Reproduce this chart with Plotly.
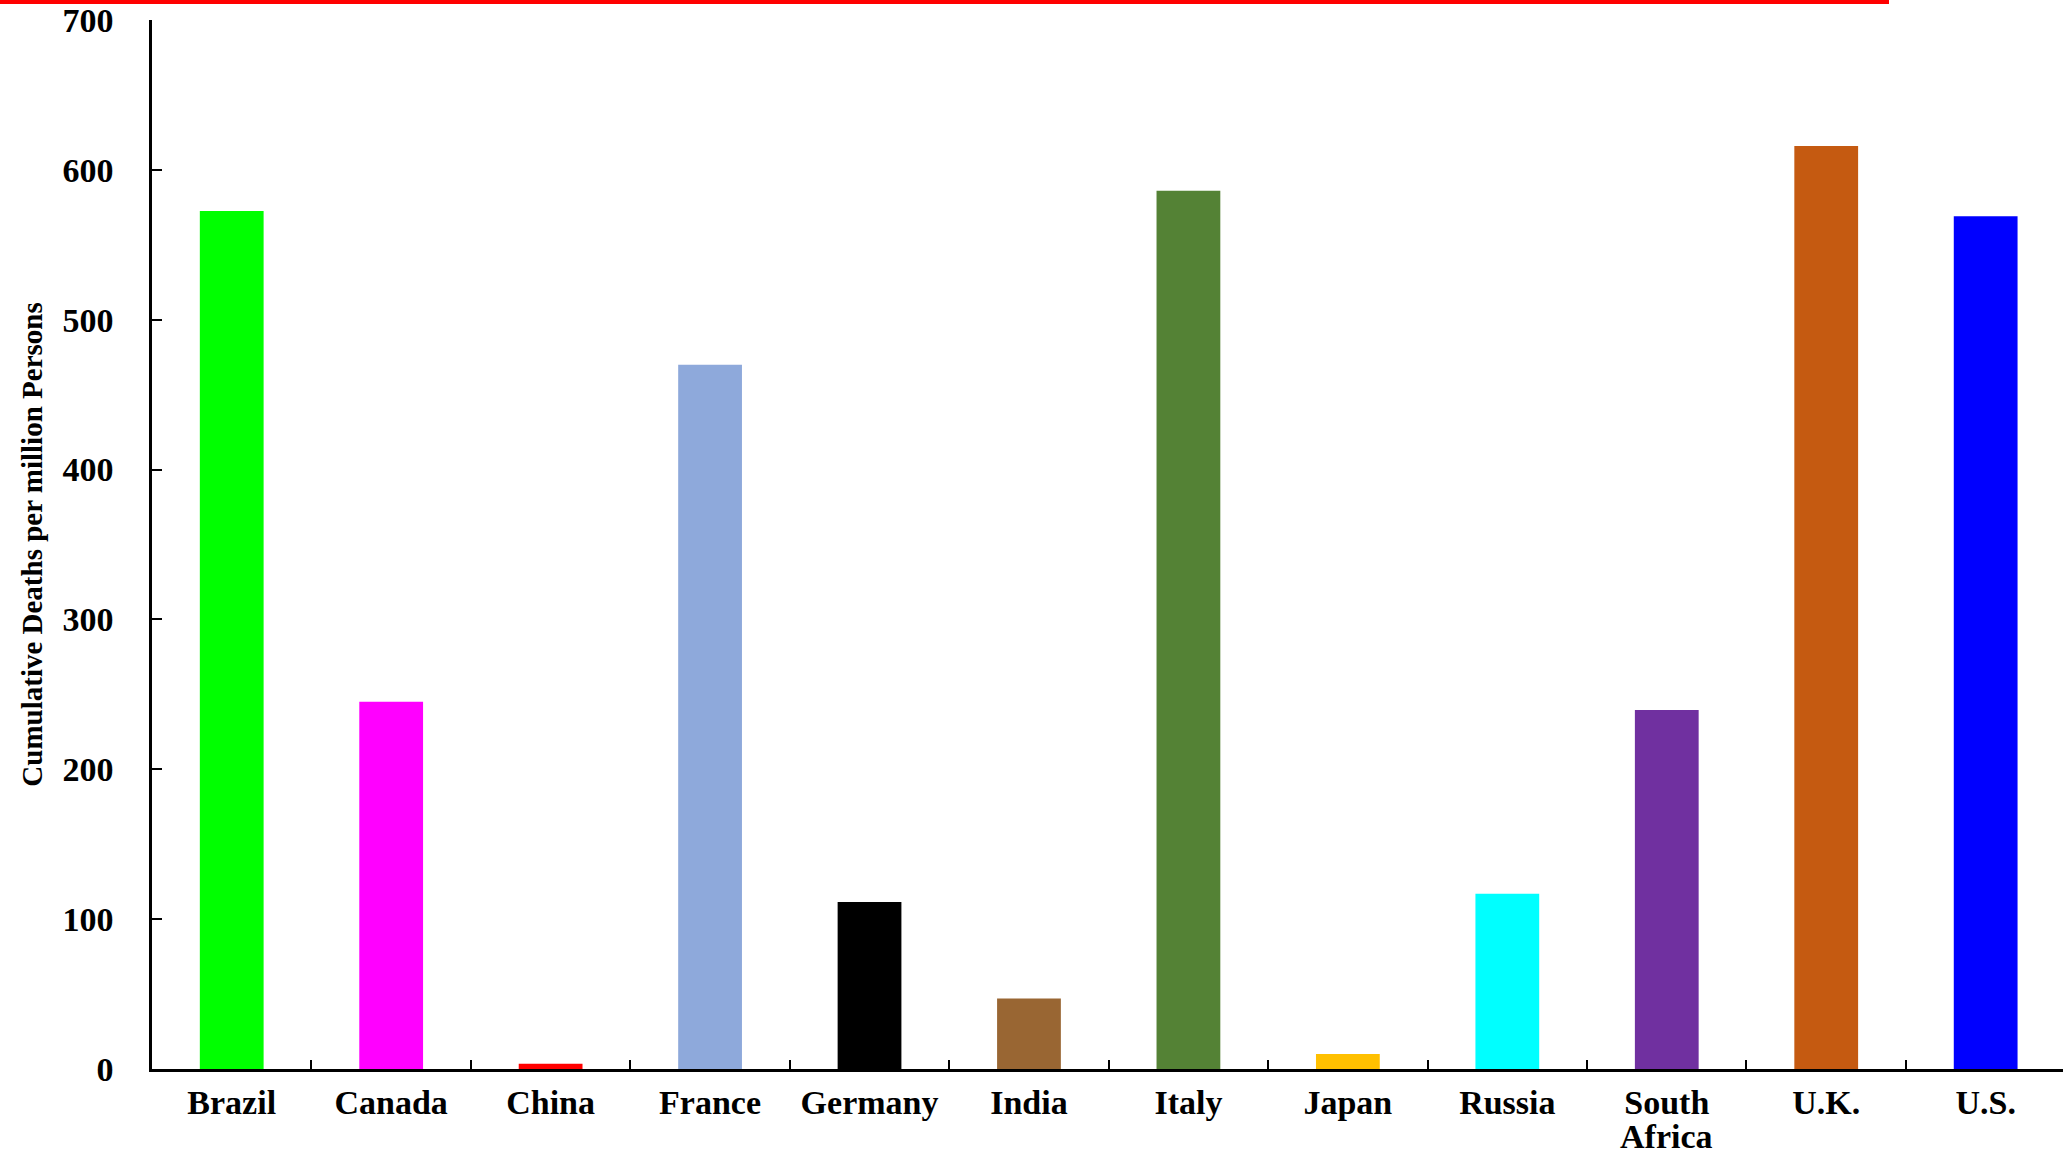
import plotly.graph_objects as go

countries = ["Brazil", "Canada", "China", "France", "Germany", "India",
             "Italy", "Japan", "Russia", "South Africa", "U.K.", "U.S."]
deaths_per_million = [572.5, 245, 3.5, 470, 111.5, 47, 586, 10, 117, 239.5, 616, 569]
bar_colors = ["#00FF00", "#FF00FF", "#FF0000", "#8EA9DB", "#000000", "#996633",
              "#548235", "#FFC000", "#00FFFF", "#7030A0", "#C55A11", "#0000FF"]
y_ticks = [0, 100, 200, 300, 400, 500, 600, 700]
y_title = "Cumulative Deaths per million Persons"

FONT = "Liberation Serif, Times New Roman, serif"
LABEL_FONT = dict(family=FONT, size=34, weight="bold", color="black")

# first word on the tick row, remaining words set as a tighter second line
first_words = [c.split(" ", 1)[0] for c in countries]
second_words = [c.split(" ", 1)[1] if " " in c else "" for c in countries]

fig = go.Figure(go.Bar(
    x=countries, y=deaths_per_million,
    marker=dict(color=bar_colors, line=dict(width=0)),
    width=0.4,
))

W, H = 2063, 1156
ML, MR, MT, MB = 152, 0, 20, 87
pw = W - ML - MR
ph = H - MT - MB

fig.update_layout(
    width=W, height=H,
    margin=dict(l=ML, r=MR, t=MT, b=MB, autoexpand=False),
    paper_bgcolor="white", plot_bgcolor="white",
    showlegend=False,
    font=dict(family=FONT, color="black"),
)

fig.update_xaxes(
    type="category",
    range=[-0.5, len(countries) - 0.515],
    tickvals=countries, ticktext=first_words,
    showline=True, linecolor="black", linewidth=2.5,
    ticks="inside", ticklen=9, tickwidth=1.5, tickcolor="black",
    tickson="boundaries",
    showgrid=False, zeroline=False,
    tickfont=LABEL_FONT,
    ticklabelstandoff=1,
    automargin=False,
)

fig.update_yaxes(
    range=[0, 700],
    tickvals=y_ticks,
    ticktext=[str(v) for v in y_ticks],
    showline=True, linecolor="black", linewidth=2.5,
    ticks="inside", ticklen=10, tickwidth=2, tickcolor="black",
    showgrid=False, zeroline=False,
    tickfont=LABEL_FONT,
    ticklabelstandoff=29,
    title=dict(text=y_title, font=dict(family=FONT, size=29, weight="bold", color="black"), standoff=12),
    automargin=False,
)

for c, w2 in zip(countries, second_words):
    if w2:
        fig.add_annotation(
            x=c, xref="x", yref="paper", y=-(1136 - (H - MB)) / ph,
            text=w2, showarrow=False, yanchor="middle", xanchor="center",
            font=LABEL_FONT,
        )

# red line along the top edge of the image
fig.add_shape(
    type="line", xref="paper", yref="paper",
    x0=(0 - ML) / pw, x1=(1889 - ML) / pw,
    y0=1 + (MT - 2) / ph, y1=1 + (MT - 2) / ph,
    line=dict(color="#FF0000", width=4),
)

fig.write_html("out.html", config={"displayModeBar": False},
               post_script="document.body.style.margin='0';")
